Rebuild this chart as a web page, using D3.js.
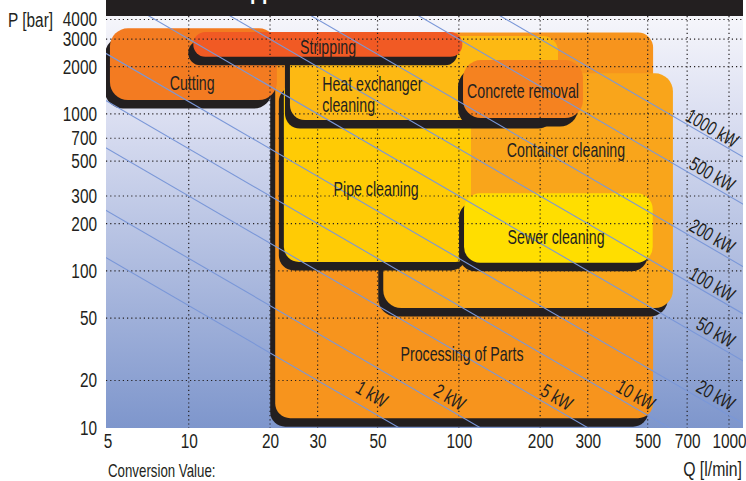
<!DOCTYPE html>
<html><head><meta charset="utf-8">
<script src="https://cdn.jsdelivr.net/npm/d3@7"></script>
<style>
body{margin:0;background:#fff;}
svg{display:block;font-family:"Liberation Sans",Arial,sans-serif;}
</style></head><body>
<svg id="c" width="746" height="481"></svg>
<script>
// ---- data ----
const xTicks = [5, 10, 20, 30, 50, 100, 200, 300, 500, 700, 1000];
const yTicks = [10, 20, 50, 100, 200, 300, 500, 700, 1000, 2000, 3000, 4000];
const xGrid = [10, 20, 30, 50, 100, 200, 300, 500, 700, 1000];
const yGrid = [20, 50, 100, 200, 300, 500, 700, 1000, 2000, 3000, 4000];
const powerKW = [1, 2, 5, 10, 20, 50, 100, 200, 500, 1000];
const powerLabelQ = [47.7, 92.7, 230.8, 452.7, 895, 895, 868, 868, 868, 868];
const powerLabelP = [16.4, 15.7, 15.7, 16.2, 16.2, 40.7, 82.4, 166.7, 414, 813];

const regionNames = ["Processing of Parts", "Cutting", "Container cleaning", "Pipe cleaning",
  "Heat exchanger cleaning", "Stripping", "Concrete removal", "Sewer cleaning"];
const regionQMin = [20.9, 5.11, 52.5, 22.5, 23.7, 10.4, 103.6, 104.5];
const regionQMax = [523.6, 21.2, 620, 110.9, 232.8, 103, 288, 521.9];
const regionPMin = [11.5, 1226, 57.9, 114, 914, 2315, 941, 112.6];
const regionPMax = [3302, 3515, 1815, 1693, 3137, 3326, 2206, 311.9];
const labelQ = [102.7, 10.3, 249.2, 49.4, 31.2, 32.8, 172.8, 229];
const labelP = [29.5, 1573, 587, 331, 1329, 2669, 1399, 164];

// ---- styles ----
const regionColors = ["#f7941d", "#f37b21", "#f9a51b", "#ffcb05", "#fdb913", "#f15a24", "#f58220", "#ffde00"];
const regionRadius = [15, 18, 18, 15, 15, 12, 18, 16];
const ink = "#231f20";

// horizontal squeeze about each text's own x anchor (imitates a condensed face)
function condense(sel, f) {
  sel.each(function () {
    const el = d3.select(this);
    const ax = +el.attr("x") || 0;
    const prev = el.attr("transform") || "";
    el.attr("transform", `${prev} translate(${ax},0) scale(${f},1) translate(${-ax},0)`);
  });
}

const svg = d3.select("#c");
const L = 106, R = 743, T = 16, B = 428;
const x = d3.scaleLog().domain([5, 1000]).range([107.4, 729]);
const y = d3.scaleLog().domain([10, 4000]).range([427.7, 19.5]);

const defs = svg.append("defs");
const grad = defs.append("linearGradient").attr("id", "bg").attr("x1", 0).attr("y1", 0).attr("x2", 0).attr("y2", 1);
grad.append("stop").attr("offset", "0").attr("stop-color", "#f6f6fb");
grad.append("stop").attr("offset", "0.25").attr("stop-color", "#dadef1");
grad.append("stop").attr("offset", "1").attr("stop-color", "#7e96cc");
defs.append("clipPath").attr("id", "clip").append("rect")
  .attr("x", L).attr("y", T).attr("width", R - L).attr("height", B - T);
defs.append("clipPath").attr("id", "clipTitle").append("rect")
  .attr("x", L).attr("y", 0).attr("width", R - L).attr("height", T);

// title bar (title text sits mostly above the picture; only descenders show)
svg.append("rect").attr("x", L).attr("y", 0).attr("width", R - L).attr("height", T).attr("fill", ink);
const title = svg.append("g").attr("clip-path", "url(#clipTitle)").append("text")
  .attr("x", 0).attr("y", -1).attr("fill", "#fff").attr("font-weight", "bold")
  .attr("font-size", 26).text("Applications");
const pStart = title.node().getStartPositionOfChar(1).x;
title.attr("x", 250 - pStart * 0.75);
condense(title, 0.75);

// background
svg.append("rect").attr("x", L).attr("y", T).attr("width", R - L).attr("height", B - T).attr("fill", "url(#bg)");

const plot = svg.append("g").attr("clip-path", "url(#clip)");

// regions
const regions = regionNames.map((n, i) => ({
  name: n, q0: regionQMin[i], q1: regionQMax[i], p0: regionPMin[i], p1: regionPMax[i],
  color: regionColors[i], r: regionRadius[i]
}));
regions.forEach(d => {
  const rx = x(d.q0), ry = y(d.p1), w = x(d.q1) - x(d.q0), h = y(d.p0) - y(d.p1);
  const r = Math.min(d.r, h / 2);
  plot.append("rect").attr("x", rx - 5).attr("y", ry + 8.5).attr("width", w).attr("height", h)
    .attr("rx", r).attr("fill", ink);
  plot.append("rect").attr("x", rx).attr("y", ry).attr("width", w).attr("height", h)
    .attr("rx", r).attr("fill", d.color);
});

// dotted grid
plot.selectAll("line.gx").data(xGrid).join("line").attr("class", "gx")
  .attr("x1", d => x(d)).attr("x2", d => x(d)).attr("y1", T).attr("y2", B)
  .attr("stroke", ink).attr("stroke-width", 1.2).attr("stroke-dasharray", "1.2,3");
plot.selectAll("line.gy").data(yGrid).join("line").attr("class", "gy")
  .attr("x1", L).attr("x2", R).attr("y1", d => y(d)).attr("y2", d => y(d))
  .attr("stroke", ink).attr("stroke-width", 1.2).attr("stroke-dasharray", "1.2,3");

// constant-power lines  P[bar]*Q[l/min]/600 = kW
const line = d3.line().x(d => x(d[0])).y(d => y(d[1]));
plot.selectAll("path.kw").data(powerKW).join("path").attr("class", "kw")
  .attr("d", kw => line([[3, kw * 600 / 3], [1500, kw * 600 / 1500]]))
  .attr("fill", "none").attr("stroke", "#7a97d8").attr("stroke-width", 1.1);

// region labels
regions.forEach((d, i) => {
  const t = svg.append("text").attr("fill", ink).attr("font-size", 20);
  if (d.name === "Heat exchanger cleaning") {
    t.attr("x", x(labelQ[i])).attr("y", y(labelP[i]));
    t.append("tspan").attr("x", x(labelQ[i])).attr("dy", "-0.2em").text("Heat exchanger");
    t.append("tspan").attr("x", x(labelQ[i])).attr("dy", "1.08em").text("cleaning");
  } else {
    t.attr("x", x(labelQ[i])).attr("y", y(labelP[i])).attr("dy", "0.36em")
      .attr("text-anchor", "middle").text(d.name);
  }
  condense(t, 0.71);
});

// power labels
const ang = Math.atan((y(10) - y(100)) / (x(100) - x(10))) * 180 / Math.PI;
const kwl = svg.selectAll("text.kwl").data(powerKW).join("text").attr("class", "kwl")
  .attr("transform", (d, i) => `translate(${x(powerLabelQ[i])},${y(powerLabelP[i])}) rotate(${ang})`)
  .attr("text-anchor", "middle").attr("dy", "0.36em").attr("font-size", 19.5)
  .attr("fill", ink).text(d => d + " kW");
condense(kwl, 0.74);

// axes
const fmt = d3.format("d");
const ay = svg.append("g").attr("transform", `translate(${L},0)`)
  .call(d3.axisLeft(y).tickValues(yTicks).tickFormat(fmt).tickSize(0).tickPadding(9));
const ax = svg.append("g").attr("transform", `translate(0,${B})`)
  .call(d3.axisBottom(x).tickValues(xTicks).tickFormat(fmt).tickSize(0).tickPadding(6));
[ax, ay].forEach(a => {
  a.select(".domain").remove();
  a.selectAll("text").attr("font-size", 20).attr("fill", ink)
    .attr("font-family", '"Liberation Sans",Arial,sans-serif');
  condense(a.selectAll("text"), 0.77);
});

const t1 = svg.append("text").attr("x", 8).attr("y", 27).attr("font-size", 20).attr("fill", ink).text("P [bar]");
const t2 = svg.append("text").attr("x", 108).attr("y", 477).attr("font-size", 19).attr("fill", ink).text("Conversion Value:");
const t3 = svg.append("text").attr("x", 742).attr("y", 476).attr("text-anchor", "end").attr("font-size", 20).attr("fill", ink).text("Q [l/min]");
condense(t1, 0.77); condense(t2, 0.7); condense(t3, 0.79);
</script>
</body></html>
